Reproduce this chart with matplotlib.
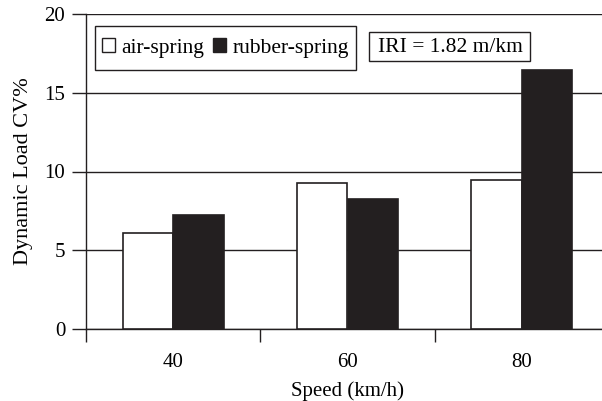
import matplotlib
matplotlib.use("Agg")
import matplotlib.pyplot as plt
from matplotlib.patches import Patch, Rectangle
import numpy as np

# data
speeds = ['40', '60', '80']
air_spring = [6.1, 9.25, 9.45]
rubber_spring = [7.25, 8.25, 16.45]
series_names = ['air-spring', 'rubber-spring']
y_ticks = [0, 5, 10, 15, 20]

plt.rcParams['font.family'] = ['Liberation Serif', 'DejaVu Serif']
plt.rcParams['font.size'] = 15

W, H = 602, 401
fig = plt.figure(figsize=(W / 100, H / 100), dpi=100)
ax = fig.add_axes([86 / W, 72 / H, 523 / W, 315 / H])

x = np.arange(len(speeds))
w = 0.29
ax.bar(x - w / 2, air_spring, w, color='white', edgecolor='#231f20', linewidth=1.2, zorder=3)
ax.bar(x + w / 2, rubber_spring, w, color='#231f20', edgecolor='#231f20', linewidth=1.2, zorder=3)

ax.set_xlim(-0.5, 2.5)
ax.set_ylim(0, 20)
ax.set_yticks(y_ticks)
ax.yaxis.grid(True, color='#231f20', linewidth=1.0)
ax.set_axisbelow(True)

ax.set_xticks(x)
ax.set_xticklabels(speeds)
ax.set_xticks([-0.5, 0.5, 1.5, 2.5], minor=True)
ax.tick_params(axis='x', which='major', length=0, pad=17, labelsize=15)
ax.tick_params(axis='x', which='minor', length=9, width=1.0, direction='out', color='#231f20')
ax.tick_params(axis='y', length=10, width=1.0, direction='out', color='#231f20', pad=5, labelsize=15)

for s in ['top', 'right']:
    ax.spines[s].set_visible(False)
for s in ['left', 'bottom']:
    ax.spines[s].set_color('#231f20')
    ax.spines[s].set_linewidth(1.0)

ax.set_xlabel('Speed (km/h)', fontsize=15, labelpad=7)
ax.set_ylabel('Dynamic Load CV%', fontsize=16, labelpad=8)

# legend (frame drawn separately so the padding matches)
handles = [Patch(facecolor='white', edgecolor='#231f20', linewidth=1.0),
           Patch(facecolor='#231f20', edgecolor='#231f20', linewidth=1.0)]
leg = fig.legend(handles, series_names, loc='center left',
                 bbox_to_anchor=(102 / W, 1 - 48 / H), ncol=2,
                 frameon=False, handlelength=0.6, handleheight=0.6,
                 handletextpad=0.3, columnspacing=0.42, borderpad=0,
                 borderaxespad=0, fontsize=15.5)
fig.patches.append(Rectangle((95 / W, 1 - 70 / H), 261 / W, 44 / H,
                             transform=fig.transFigure, facecolor='white',
                             edgecolor='#231f20', linewidth=1.0, zorder=2))

# IRI annotation box
fig.patches.append(Rectangle((369 / W, 1 - 61 / H), 161 / W, 29 / H,
                             transform=fig.transFigure, facecolor='white',
                             edgecolor='#231f20', linewidth=1.0, zorder=2))
fig.text(450 / W, 1 - 47 / H, 'IRI = 1.82 m/km', ha='center', va='center',
         fontsize=15.5, zorder=3)

fig.savefig('out.png', dpi=100)
